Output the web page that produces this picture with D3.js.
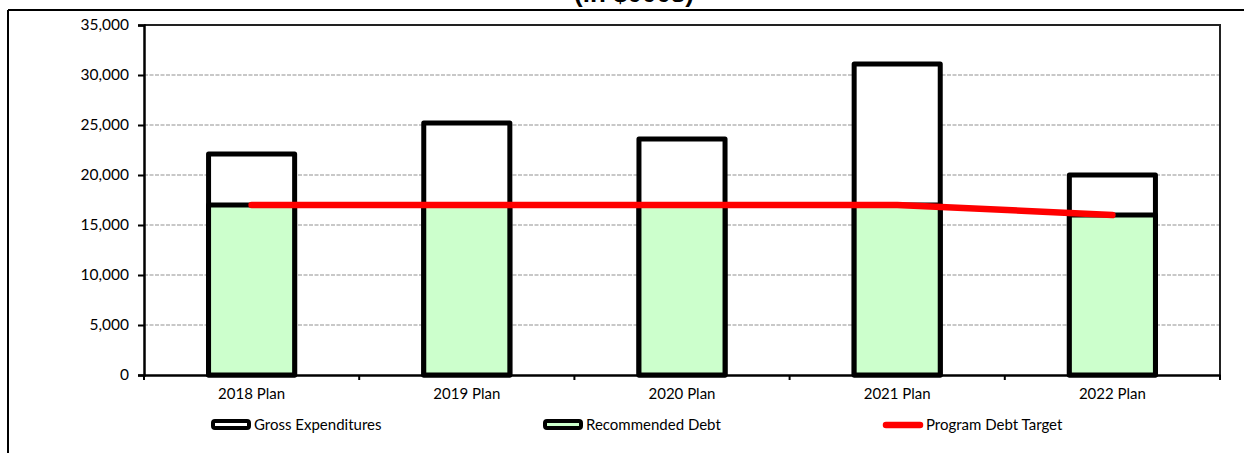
<!DOCTYPE html>
<html><head><meta charset="utf-8">
<script src="https://cdn.jsdelivr.net/npm/d3@7"></script>
<style>body{margin:0;background:#fff}svg{display:block}text{font-family:Lato,"Open Sans",sans-serif}</style>
</head><body>
<svg id="c" width="1244" height="453"></svg>
<script>
const categories = ["2018 Plan","2019 Plan","2020 Plan","2021 Plan","2022 Plan"];
const grossExpenditures = [22100, 25200, 23600, 31100, 20000];
const recommendedDebt = [17000, 17000, 17000, 17000, 16000];
const programDebtTarget = [17000, 17000, 17000, 17000, 16000];
const yTicks = [0,5000,10000,15000,20000,25000,30000,35000];
const legendLabels = ["Gross Expenditures","Recommended Debt","Program Debt Target"];
const titleText = "(in $000s)";

const svg = d3.select("#c");
const L = 144, R = 1220, T = 25, B = 375;
const x = d3.scaleBand().domain(categories).range([L,R]).paddingInner(0.6).paddingOuter(0.3);
const y = d3.scaleLinear().domain([0,35000]).range([B,T]);

// outer frame
svg.append("line").attr("x1",8).attr("x2",1244).attr("y1",10).attr("y2",10).attr("stroke","#000").attr("stroke-width",2);
svg.append("line").attr("x1",8).attr("x2",8).attr("y1",10).attr("y2",453).attr("stroke","#000").attr("stroke-width",2);

// title (clipped at top, as in the reference)
svg.append("text").attr("x",634).attr("y",1.5).attr("text-anchor","middle")
  .style("font-family","'Liberation Sans',Arial,sans-serif").attr("font-weight","bold").attr("font-size",26).text(titleText);

// gridlines
svg.append("g").selectAll("line").data(yTicks.filter(d=>d>0)).join("line")
  .attr("x1",L).attr("x2",R).attr("y1",d=>y(d)).attr("y2",d=>y(d))
  .attr("stroke","#c8c8c8").attr("stroke-width",2).attr("stroke-dasharray","4,1.5");

// plot border top/right
svg.append("line").attr("x1",L).attr("x2",R+1).attr("y1",T).attr("y2",T).attr("stroke","#222").attr("stroke-width",2);
svg.append("line").attr("x1",R).attr("x2",R).attr("y1",T).attr("y2",B+4).attr("stroke","#222").attr("stroke-width",2);

// bars
const bw = x.bandwidth();
svg.append("g").selectAll("rect").data(categories).join("rect")
  .attr("x",d=>x(d)).attr("width",bw)
  .attr("y",(d,i)=>y(grossExpenditures[i])).attr("height",(d,i)=>B-y(grossExpenditures[i]))
  .attr("fill","#fff").attr("stroke","#000").attr("stroke-width",5).attr("stroke-linejoin","round");
svg.append("g").selectAll("rect").data(categories).join("rect")
  .attr("x",d=>x(d)).attr("width",bw)
  .attr("y",(d,i)=>y(recommendedDebt[i])).attr("height",(d,i)=>B-y(recommendedDebt[i]))
  .attr("fill","#ccffcc").attr("stroke","#000").attr("stroke-width",5).attr("stroke-linejoin","round");

// axes
const yAxis = svg.append("g").attr("transform",`translate(${L},0)`)
  .call(d3.axisLeft(y).tickValues(yTicks).tickFormat(d3.format(",")).tickSize(6).tickPadding(9));
const xAxis = svg.append("g").attr("transform",`translate(0,${B})`)
  .call(d3.axisBottom(x).tickSize(0).tickPadding(13));
[yAxis,xAxis].forEach(g=>{
  g.select(".domain").attr("stroke","#000").attr("stroke-width",2.5);
  g.selectAll(".tick line").attr("stroke","#000").attr("stroke-width",2);
  g.selectAll("text").attr("font-size",15).attr("fill","#000").style("font-family","Lato,sans-serif");
});
yAxis.selectAll("text").attr("font-size",15.5);
// x ticks at band boundaries
const bounds = categories.map(c=>x(c)-x.step()*x.paddingInner()/2).concat([R]);
svg.append("g").selectAll("line").data(bounds).join("line")
  .attr("x1",d=>d).attr("x2",d=>d).attr("y1",B).attr("y2",B+5).attr("stroke","#000").attr("stroke-width",2);

// debt target line
const line = d3.line().x((d,i)=>x(categories[i])+bw/2).y(d=>y(d));
svg.append("path").datum(programDebtTarget).attr("d",line).attr("fill","none")
  .attr("stroke","#ff0000").attr("stroke-width",6.5).attr("stroke-linecap","round").attr("stroke-linejoin","round");

// legend
const ly = 425;
const lg = svg.append("g");
const lx = [211, 543, 883];
lg.append("rect").attr("x",lx[0]+2).attr("y",ly-4).attr("width",36).attr("height",7).attr("rx",2)
  .attr("fill","#fff").attr("stroke","#000").attr("stroke-width",4);
lg.append("rect").attr("x",lx[1]+2).attr("y",ly-4).attr("width",36).attr("height",7).attr("rx",2)
  .attr("fill","#ccffcc").attr("stroke","#000").attr("stroke-width",4);
lg.append("line").attr("x1",lx[2]+3).attr("x2",lx[2]+37).attr("y1",ly).attr("y2",ly)
  .attr("stroke","#ff0000").attr("stroke-width",6.5).attr("stroke-linecap","round");
lg.selectAll("text").data(legendLabels).join("text")
  .attr("x",(d,i)=>lx[i]+43).attr("y",ly).attr("dy","0.35em").attr("font-size",15).text(d=>d);
</script>
</body></html>
